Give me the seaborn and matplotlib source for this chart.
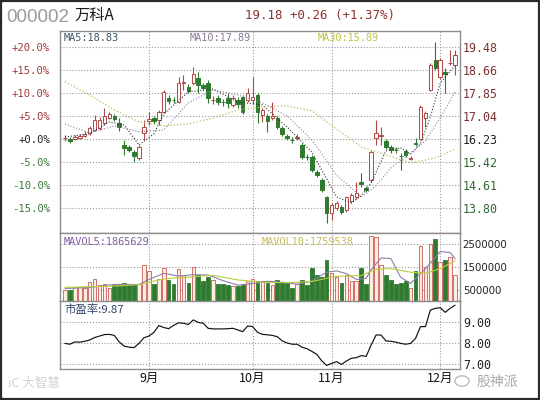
import numpy as np
import pandas as pd
import matplotlib
matplotlib.use('Agg')
import matplotlib.pyplot as plt
import seaborn as sns
from matplotlib.patches import Rectangle, Circle

sns.set_theme(style='white')
plt.rcParams['font.family'] = ['DejaVu Sans', 'Noto Sans CJK SC']

CJK = ['Noto Sans CJK SC', 'DejaVu Sans']
MONO = ['DejaVu Sans Mono', 'Noto Sans CJK SC']

# daily k-line, 80 sessions (Aug - early Dec)
opens = [16.26, 16.24, 16.24, 16.28, 16.35, 16.45, 16.56, 16.63, 16.80, 16.98,
         17.05, 16.80, 16.03, 15.96, 15.78, 15.57, 16.45, 16.88, 16.98, 16.91,
         17.19, 17.68, 17.61, 17.54, 18.21, 18.07, 18.21, 18.39, 18.14, 18.21,
         17.61, 17.68, 17.54, 17.68, 17.44, 17.61, 17.72, 17.61, 17.61, 17.79,
         17.09, 17.05, 16.98, 16.98, 16.63, 16.35, 16.21, 16.28, 16.03, 15.61,
         15.61, 15.08, 14.80, 14.18, 13.64, 13.81, 13.85, 13.74, 14.06, 14.20,
         14.73, 14.52, 14.80, 16.28, 16.35, 16.17, 15.96, 15.85, 15.64, 15.82,
         15.55, 16.10, 16.24, 16.98, 17.97, 19.02, 18.42, 18.60, 18.90, 18.85]
highs = [16.38, 16.31, 16.38, 16.42, 16.52, 16.70, 17.09, 17.02, 17.33, 17.19,
         17.12, 16.98, 16.21, 16.03, 15.85, 16.03, 16.91, 17.19, 17.05, 17.26,
         17.97, 17.79, 17.72, 18.42, 18.49, 18.18, 18.78, 18.60, 18.21, 18.32,
         17.75, 17.79, 17.65, 17.86, 17.79, 17.72, 17.79, 18.04, 18.42, 17.86,
         17.33, 17.12, 17.54, 17.05, 16.70, 16.42, 16.31, 16.42, 16.10, 15.71,
         15.68, 15.15, 14.87, 14.24, 13.99, 14.06, 13.92, 14.24, 14.34, 14.73,
         15.04, 14.59, 15.85, 16.91, 16.66, 16.24, 16.03, 15.96, 15.75, 15.89,
         15.64, 16.28, 17.44, 17.23, 18.92, 19.66, 19.09, 18.74, 19.37, 19.37]
lows = [16.17, 16.10, 16.21, 16.24, 16.31, 16.38, 16.52, 16.56, 16.73, 16.95,
        16.88, 16.52, 15.68, 15.78, 15.43, 15.50, 16.21, 16.73, 16.77, 16.73,
        17.16, 17.47, 17.51, 17.51, 17.97, 17.86, 18.14, 17.86, 17.97, 17.51,
        17.47, 17.44, 17.40, 17.33, 17.37, 17.33, 17.12, 17.54, 17.47, 16.80,
        16.84, 16.49, 16.91, 16.59, 16.35, 16.21, 16.10, 16.21, 15.54, 15.50,
        15.08, 14.90, 14.38, 13.28, 13.39, 13.74, 13.60, 13.67, 13.99, 14.13,
        14.55, 14.38, 14.73, 16.03, 16.03, 15.89, 15.75, 15.75, 15.15, 15.61,
        15.50, 16.00, 16.21, 16.66, 17.93, 18.67, 18.35, 17.86, 18.85, 18.49]
closes = [16.28, 16.17, 16.31, 16.35, 16.42, 16.63, 16.91, 16.91, 17.05, 17.12,
          16.95, 16.66, 15.92, 15.85, 15.64, 15.96, 16.66, 16.95, 16.88, 17.19,
          17.90, 17.58, 17.60, 18.21, 18.25, 17.93, 18.53, 18.14, 18.04, 17.68,
          17.61, 17.54, 17.53, 17.51, 17.68, 17.47, 17.19, 17.86, 17.72, 17.19,
          17.26, 16.88, 17.05, 16.66, 16.42, 16.28, 16.20, 16.31, 15.61, 15.60,
          15.15, 14.97, 14.45, 13.64, 13.92, 13.99, 13.67, 14.18, 14.27, 14.34,
          14.66, 14.45, 15.78, 16.45, 16.38, 15.96, 15.85, 15.84, 15.63, 15.68,
          15.57, 16.07, 17.37, 17.16, 18.85, 18.74, 19.02, 18.53, 18.92, 19.18]

# volume, millions of shares
volumes = [0.49, 0.49, 0.60, 0.60, 0.57, 0.84, 0.99, 0.72, 0.75, 0.57,
           0.69, 0.69, 0.79, 0.72, 0.72, 0.75, 1.58, 1.34, 0.75, 0.99,
           1.46, 0.94, 0.75, 1.42, 1.16, 0.79, 1.49, 1.16, 0.90, 1.04,
           0.94, 0.75, 0.75, 0.72, 0.64, 0.64, 0.69, 0.87, 0.99, 0.90,
           0.87, 0.80, 0.72, 0.94, 0.84, 0.79, 0.57, 0.75, 0.94, 0.69,
           1.46, 1.13, 1.04, 1.79, 1.24, 1.04, 0.79, 1.16, 0.87, 0.87,
           1.46, 0.75, 2.88, 2.84, 1.58, 1.13, 0.94, 0.75, 0.79, 0.87,
           0.57, 1.34, 2.43, 1.49, 2.51, 2.73, 1.73, 1.79, 1.94, 1.16]

# price/earnings ratio
pe = [7.98, 7.94, 8.05, 8.04, 8.08, 8.14, 8.26, 8.33, 8.40, 8.41,
      8.36, 8.05, 7.85, 7.80, 7.78, 7.98, 8.25, 8.33, 8.50, 8.83,
      8.74, 8.68, 8.84, 8.96, 8.94, 8.88, 9.10, 8.98, 8.94, 8.70,
      8.67, 8.67, 8.67, 8.68, 8.70, 8.62, 8.54, 8.81, 8.78, 8.51,
      8.41, 8.39, 8.36, 8.30, 8.10, 8.00, 7.94, 7.94, 7.80, 7.73,
      7.60, 7.46, 7.15, 6.93, 7.03, 7.11, 6.98, 7.14, 7.27, 7.30,
      7.40, 7.36, 7.90, 8.38, 8.38, 8.10, 8.08, 8.04, 7.98, 7.94,
      7.98, 8.22, 8.78, 8.78, 9.57, 9.65, 9.68, 9.46, 9.65, 9.80]

# moving averages as drawn (session index, value)
ma5_idx = [0, 5, 9, 12, 15, 18, 20, 25, 30, 35, 40, 45, 50, 55, 58, 60, 62, 65, 68, 70, 72, 74, 76, 79]
ma5_val = [16.31, 16.42, 16.84, 16.73, 16.03, 16.42, 17.12, 17.90, 18.00, 17.54, 17.44, 16.66,
           15.78, 14.20, 13.99, 14.24, 14.69, 15.82, 15.92, 15.71, 16.07, 17.02, 18.21, 18.83]
ma10_idx = [0, 5, 10, 15, 20, 25, 30, 35, 40, 45, 50, 55, 60, 63, 66, 70, 73, 76, 79]
ma10_val = [16.77, 16.45, 16.70, 16.49, 16.56, 17.51, 17.97, 17.79, 17.51, 17.05, 16.21,
            14.97, 14.20, 14.59, 15.22, 15.75, 16.17, 16.98, 17.89]
ma30_idx = [0, 5, 10, 15, 20, 25, 30, 35, 40, 45, 50, 55, 60, 65, 70, 75, 79]
ma30_val = [18.25, 17.79, 17.26, 16.84, 16.70, 16.77, 16.98, 17.26, 17.37, 17.40, 17.23,
            16.59, 15.96, 15.68, 15.40, 15.57, 15.89]
mavol5_idx = [0, 5, 10, 15, 17, 20, 23, 26, 29, 32, 35, 38, 41, 44, 47, 50, 53, 55, 57, 59,
              61, 62, 64, 66, 68, 70, 72, 74, 76, 78, 79]
mavol5_val = [0.55, 0.60, 0.73, 0.73, 0.95, 1.22, 1.10, 1.16, 1.15, 0.90, 0.70, 0.77, 0.87,
              0.83, 0.74, 0.88, 1.27, 1.33, 1.21, 0.95, 1.00, 1.38, 1.90, 1.87, 1.04, 0.78,
              1.20, 1.67, 2.18, 2.14, 1.87]
mavol10_idx = [0, 10, 15, 20, 25, 30, 35, 40, 45, 50, 55, 60, 63, 66, 70, 73, 76, 79]
mavol10_val = [0.60, 0.66, 0.72, 0.98, 1.05, 1.13, 0.93, 0.82, 0.81, 0.86, 1.09, 1.12,
               1.40, 1.43, 1.27, 1.22, 1.43, 1.77]

month_pos = [17, 38, 54, 76]
month_labels = ['9月', '10月', '11月', '12月']
base_price = 16.23

UP_EDGE = '#b04848'
UP_FILL = '#fffafa'
DN = '#2f7a2f'
GRID = '#9a9a9a'
SPINE = '#8c8c8c'

df = pd.DataFrame({'open': opens, 'high': highs, 'low': lows, 'close': closes,
                   'vol': volumes, 'pe': pe})
df['i'] = np.arange(len(df))
df['up'] = df['close'] >= df['open']

fig = plt.figure(figsize=(5.4, 4.0), dpi=100)
fig.patch.set_facecolor('white')
ax_k = fig.add_axes([60/540, 1-233/400, 400/540, 202/400])
ax_v = fig.add_axes([60/540, 1-301/400, 400/540, 68/400])
ax_p = fig.add_axes([60/540, 1-369/400, 400/540, 68/400])

for ax in (ax_k, ax_v, ax_p):
    ax.set_xlim(-1, 80)
    ax.set_xticks(month_pos)
    ax.grid(True, ls=':', lw=0.8, color=GRID)
    ax.tick_params(length=0)
    for s in ax.spines.values():
        s.set_color(SPINE)
        s.set_linewidth(1.0)
    ax.set_facecolor('white')

# candles
wick_c = [UP_EDGE if u else DN for u in df['up']]
ax_k.vlines(df['i'], df['low'], df['high'], colors=wick_c, lw=0.8, zorder=2)
body = np.maximum((df['close'] - df['open']).abs(), 0.012)
ax_k.bar(df['i'], body, bottom=np.minimum(df['open'], df['close']), width=0.72,
         color=[UP_FILL if u else DN for u in df['up']],
         edgecolor=wick_c, linewidth=0.7, zorder=3)

sns.lineplot(x=ma5_idx, y=ma5_val, ax=ax_k, color='#333333', lw=0.8, linestyle=':', zorder=4)
sns.lineplot(x=ma10_idx, y=ma10_val, ax=ax_k, color='#8e82a0', lw=0.8, linestyle=':', zorder=4)
sns.lineplot(x=ma30_idx, y=ma30_val, ax=ax_k, color='#bcbc5c', lw=0.9, linestyle=':', zorder=4)

ax_k.set_ylim(12.93, 20.04)
levels = [base_price * (1 + k * 0.05) for k in range(-3, 5)]
ax_k.set_yticks(levels)
pct = ['%+.1f%%' % (k * 5.0) for k in range(-3, 5)]
ax_k.set_yticklabels(pct, family=MONO, fontsize=7.6)
ax_k.set_xticklabels([])
ax_k.tick_params(axis='y', pad=7)
for lab, k in zip(ax_k.get_yticklabels(), range(-3, 5)):
    lab.set_color('#a03a3a' if k > 0 else ('#222222' if k == 0 else '#3a7a3a'))
ax_r = ax_k.twinx()
ax_r.set_ylim(ax_k.get_ylim())
ax_r.set_yticks(levels)
ax_r.set_yticklabels(['%.2f' % v for v in levels], family=MONO, fontsize=8.4)
ax_r.tick_params(length=0, pad=2)
ax_r.grid(False)
for s in ax_r.spines.values():
    s.set_visible(False)
for lab, k in zip(ax_r.get_yticklabels(), range(-3, 5)):
    lab.set_color('#7a3030' if k > 0 else ('#222222' if k == 0 else '#336633'))
ax_r.set_ylabel('')

ax_k.text(0.008, 0.988, 'MA5:18.83', transform=ax_k.transAxes, va='top', ha='left',
          family=MONO, fontsize=7.4, color='#3d5566')
ax_k.text(0.325, 0.988, 'MA10:17.89', transform=ax_k.transAxes, va='top', ha='left',
          family=MONO, fontsize=7.4, color='#8a7a99')
ax_k.text(0.645, 0.988, 'MA30:15.89', transform=ax_k.transAxes, va='top', ha='left',
          family=MONO, fontsize=7.4, color='#c2c24a')

# volume
ax_v.bar(df['i'], df['vol'] * 1e6, width=0.74,
         color=['#fdeede' if u else DN for u in df['up']],
         edgecolor=['#c85a5a' if u else DN for u in df['up']], linewidth=0.6, zorder=3)
sns.lineplot(x=mavol5_idx, y=np.array(mavol5_val) * 1e6, ax=ax_v, color='#8e7fa8', lw=0.8, zorder=4)
sns.lineplot(x=mavol10_idx, y=np.array(mavol10_val) * 1e6, ax=ax_v, color='#b9cf3c', lw=0.8, zorder=4)
ax_v.set_ylim(0, 3.0e6)
ax_v.set_yticks([0.5e6, 1.5e6, 2.5e6])
ax_v.yaxis.tick_right()
ax_v.set_yticklabels(['500000', '1500000', '2500000'], fontsize=7.4, color='#222222')
ax_v.tick_params(axis='y', pad=2)
ax_v.set_xticklabels([])
ax_v.set_ylabel('')
ax_v.text(0.008, 0.94, 'MAVOL5:1865629', transform=ax_v.transAxes, va='top', ha='left',
          family=MONO, fontsize=7.4, color='#8060a0', zorder=5)
ax_v.text(0.505, 0.94, 'MAVOL10:1759538', transform=ax_v.transAxes, va='top', ha='left',
          family=MONO, fontsize=7.4, color='#c4bc5a', zorder=5)

# P/E
sns.lineplot(x=df['i'], y=df['pe'], ax=ax_p, color='#111111', lw=0.85)
ax_p.set_ylim(6.76, 10.0)
ax_p.set_yticks([7, 8, 9])
ax_p.yaxis.tick_right()
ax_p.set_yticklabels(['7.00', '8.00', '9.00'], family=MONO, fontsize=8.4, color='#222222')
ax_p.tick_params(axis='y', pad=2)
ax_p.set_xticklabels(month_labels, family=CJK, fontsize=9, color='#111111')
ax_p.tick_params(axis='x', pad=2)
ax_p.set_xlabel('')
ax_p.set_ylabel('')
ax_p.text(0.012, 0.96, '市盈率:9.87', transform=ax_p.transAxes, va='top', ha='left',
          family=['Noto Sans CJK SC', 'DejaVu Sans Mono'], fontsize=8.2, color='#34466e')

# header
fig.text(6/540, 1-17/400, '000002', family=['Liberation Sans', 'DejaVu Sans'], fontsize=13.5,
         color='#9a9a9a', va='center', ha='left')
fig.text(74/540, 1-15/400, '万科A', family=CJK, fontsize=11, color='#1a1a1a', va='center', ha='left')
fig.text(245/540, 1-15/400, '19.18 +0.26 (+1.37%)', family=MONO, fontsize=9,
         color='#8b3030', va='center', ha='left')

# watermarks
fig.text(8/540, 1-384/400, 'iC 大智慧', family=CJK, fontsize=9, color='#d2d2d2', va='center')
fig.add_artist(Circle((462/540, 1-381/400), 0.013, transform=fig.transFigure,
                      fill=False, edgecolor='#bbbbbb', lw=1.0))
fig.text(476/540, 1-382/400, '股神派', family=CJK, fontsize=10, color='#a8a8a8', va='center')

fig.add_artist(Rectangle((0.002, 0.003), 0.996, 0.994, transform=fig.transFigure,
                         fill=False, edgecolor='#2a2a2a', lw=1.6))

fig.savefig('out.png', dpi=100)
